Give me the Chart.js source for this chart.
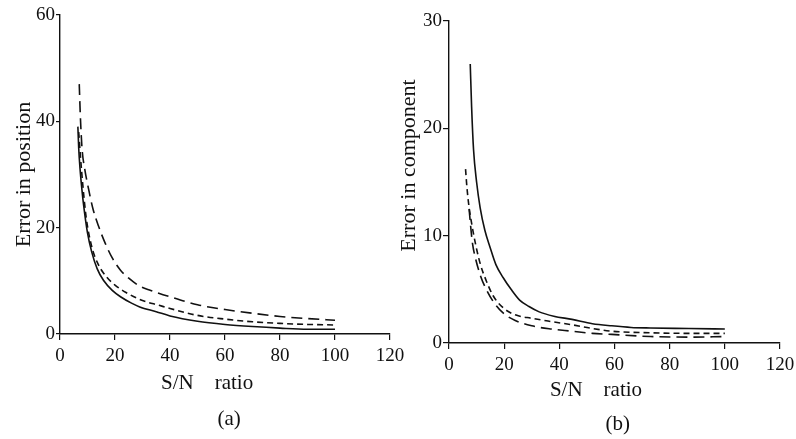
<!DOCTYPE html>
<html>
<head>
<meta charset="utf-8">
<script src="https://cdn.jsdelivr.net/npm/chart.js@4.4.1/dist/chart.umd.min.js"></script>
<style>
  html, body { margin: 0; padding: 0; background: #fff; }
  #wrap { position: relative; width: 796px; height: 439px; }
  #chart-a { position: absolute; left: 0; top: 0; }
  #chart-b { position: absolute; left: 396px; top: 0; }
</style>
</head>
<body>
<div id="wrap">
  <canvas id="chart-a" width="420" height="439"></canvas>
  <canvas id="chart-b" width="400" height="439"></canvas>
</div>
<script>
  "use strict";

  // (a) error in position vs S/N ratio
  const snrA_long = [7, 7.4, 8, 9, 10.3, 12, 14, 16.5, 19, 22, 25, 29, 33, 40, 50, 60, 70, 80, 90, 100];
  const errA_long = [47, 41, 35, 31, 27.5, 23.5, 20.3, 17, 14.3, 12, 10.5, 9, 8.2, 7, 5.5, 4.6, 3.9, 3.3, 2.9, 2.6];
  const snrA_short = [6.8, 7.5, 8.3, 9.5, 11.5, 14, 17, 20, 24, 30, 36, 40, 50, 60, 70, 80, 90, 100];
  const errA_short = [38, 33, 28, 22, 16.5, 13, 10.7, 9.2, 7.8, 6.3, 5.4, 4.8, 3.5, 2.8, 2.3, 2.0, 1.8, 1.7];
  const snrA_solid = [6.5, 6.8, 7.3, 8, 8.5, 10, 11.5, 13.5, 15.8, 19, 22, 26, 29, 35, 40, 50, 60, 70, 80, 90, 100];
  const errA_solid = [39, 35, 31, 27, 24.6, 19, 15.5, 12.3, 10.1, 8.2, 7, 5.8, 5.1, 4.2, 3.4, 2.4, 1.8, 1.4, 1.1, 0.9, 0.9];

  // (b) error in component vs S/N ratio
  const snrB_solid = [7.7, 8.2, 8.9, 10, 11.3, 13, 14.9, 17, 19.6, 22.5, 25.6, 29, 32.7, 38, 44.6, 52, 59, 66, 73, 87, 100];
  const errB_solid = [26, 22, 18, 15, 12.6, 10.5, 8.9, 7.3, 6.1, 5, 4, 3.4, 2.9, 2.5, 2.2, 1.8, 1.6, 1.45, 1.4, 1.35, 1.3];
  const snrB_short = [6, 6.5, 7.2, 8.3, 9.8, 11.3, 13.5, 16, 20, 24.3, 30, 37, 44.6, 52, 59, 73, 87, 100];
  const errB_short = [16.2, 14.5, 12.8, 11, 9, 7.4, 5.8, 4.4, 3.2, 2.6, 2.3, 2.0, 1.7, 1.35, 1.1, 0.95, 0.9, 0.9];
  const snrB_long = [7.3, 7.8, 8.5, 9.5, 11.5, 13.7, 16.5, 19.6, 24, 30, 37, 44.6, 52, 59, 73, 87, 100];
  const errB_long = [12.5, 11, 9.3, 8, 6.2, 4.9, 3.7, 2.8, 2.1, 1.6, 1.3, 1.1, 0.9, 0.8, 0.6, 0.55, 0.6];

  const xTicks = [0, 20, 40, 60, 80, 100, 120];
  const yTicksA = [0, 20, 40, 60];
  const yTicksB = [0, 10, 20, 30];

  const INK = "#111";
  const FONT = "Liberation Serif";
  const DASH = { solid: [], short: [6, 4], long: [11, 6] };

  const toPoints = (xs, ys) => xs.map((x, i) => ({ x, y: ys[i] }));

  function series(xs, ys, style) {
    return {
      data: toPoints(xs, ys),
      borderColor: INK,
      borderWidth: 1.6,
      borderDash: DASH[style],
      pointRadius: 0,
      fill: false,
      cubicInterpolationMode: "monotone"
    };
  }

  // draws the "S/N ratio" caption and the panel letter under the x axis
  const captions = {
    id: "captions",
    afterDraw(chart, args, opts) {
      const { ctx, chartArea, scales } = chart;
      ctx.save();
      ctx.fillStyle = INK;
      ctx.textAlign = "center";
      ctx.textBaseline = "middle";
      ctx.font = `21px "${FONT}"`;
      opts.items.forEach(item => {
        ctx.fillText(item.text, scales.x.getPixelForValue(item.at), chartArea.bottom + item.dy);
      });
      ctx.restore();
    }
  };

  function makeChart(el, cfg) {
    return new Chart(el, {
      type: "line",
      data: { datasets: cfg.datasets },
      plugins: [captions],
      options: {
        responsive: false,
        animation: false,
        layout: { padding: { top: cfg.top, right: cfg.right, left: 0, bottom: 0 } },
        plugins: {
          legend: { display: false },
          tooltip: { enabled: false },
          captions: { items: cfg.captions }
        },
        scales: {
          x: {
            type: "linear",
            min: 0,
            max: 120,
            afterBuildTicks: s => { s.ticks = xTicks.map(v => ({ value: v })); },
            afterFit: s => { s.height = cfg.xHeight; s.paddingLeft = 0; s.paddingRight = 0; },
            border: { display: true, color: INK, width: 1.4 },
            grid: { drawOnChartArea: false, drawTicks: true, tickLength: 6, color: INK, lineWidth: 1.2 },
            ticks: { color: INK, padding: 5, maxRotation: 0, font: { family: FONT, size: 19 } }
          },
          y: {
            min: 0,
            max: cfg.yMax,
            afterBuildTicks: s => { s.ticks = cfg.yTicks.map(v => ({ value: v })); },
            afterFit: s => { s.width = cfg.yWidth; s.paddingTop = 0; s.paddingBottom = 0; },
            border: { display: true, color: INK, width: 1.4 },
            grid: { drawOnChartArea: false, drawTicks: true, tickLength: cfg.yTick, color: INK, lineWidth: 1.2 },
            ticks: { color: INK, padding: 1, font: { family: FONT, size: 19 } },
            title: {
              display: true,
              text: cfg.yTitle,
              color: INK,
              padding: { top: cfg.titlePad, bottom: 0 },
              font: { family: FONT, size: 22 }
            }
          }
        }
      }
    });
  }

  makeChart(document.getElementById("chart-a"), {
    datasets: [
      series(snrA_long, errA_long, "long"),
      series(snrA_short, errA_short, "short"),
      series(snrA_solid, errA_solid, "solid")
    ],
    top: 15,
    right: 30,
    xHeight: 105,
    yWidth: 60,
    yMax: 60,
    yTicks: yTicksA,
    yTick: 4,
    yTitle: "Error in position",
    titlePad: 11,
    captions: [
      { text: "S/N\u00a0\u00a0\u00a0\u00a0ratio", at: 53.5, dy: 49 },
      { text: "(a)", at: 61.5, dy: 85 }
    ]
  });

  makeChart(document.getElementById("chart-b"), {
    datasets: [
      series(snrB_solid, errB_solid, "solid"),
      series(snrB_short, errB_short, "short"),
      series(snrB_long, errB_long, "long")
    ],
    top: 21,
    right: 16,
    xHeight: 96,
    yWidth: 53,
    yMax: 30,
    yTicks: yTicksB,
    yTick: 6,
    yTitle: "\u00a0\u00a0\u00a0\u00a0\u00a0\u00a0Error in component",
    titlePad: 0,
    captions: [
      { text: "S/N\u00a0\u00a0\u00a0\u00a0ratio", at: 53.3, dy: 47 },
      { text: "(b)", at: 61.2, dy: 81 }
    ]
  });
</script>
</body>
</html>
